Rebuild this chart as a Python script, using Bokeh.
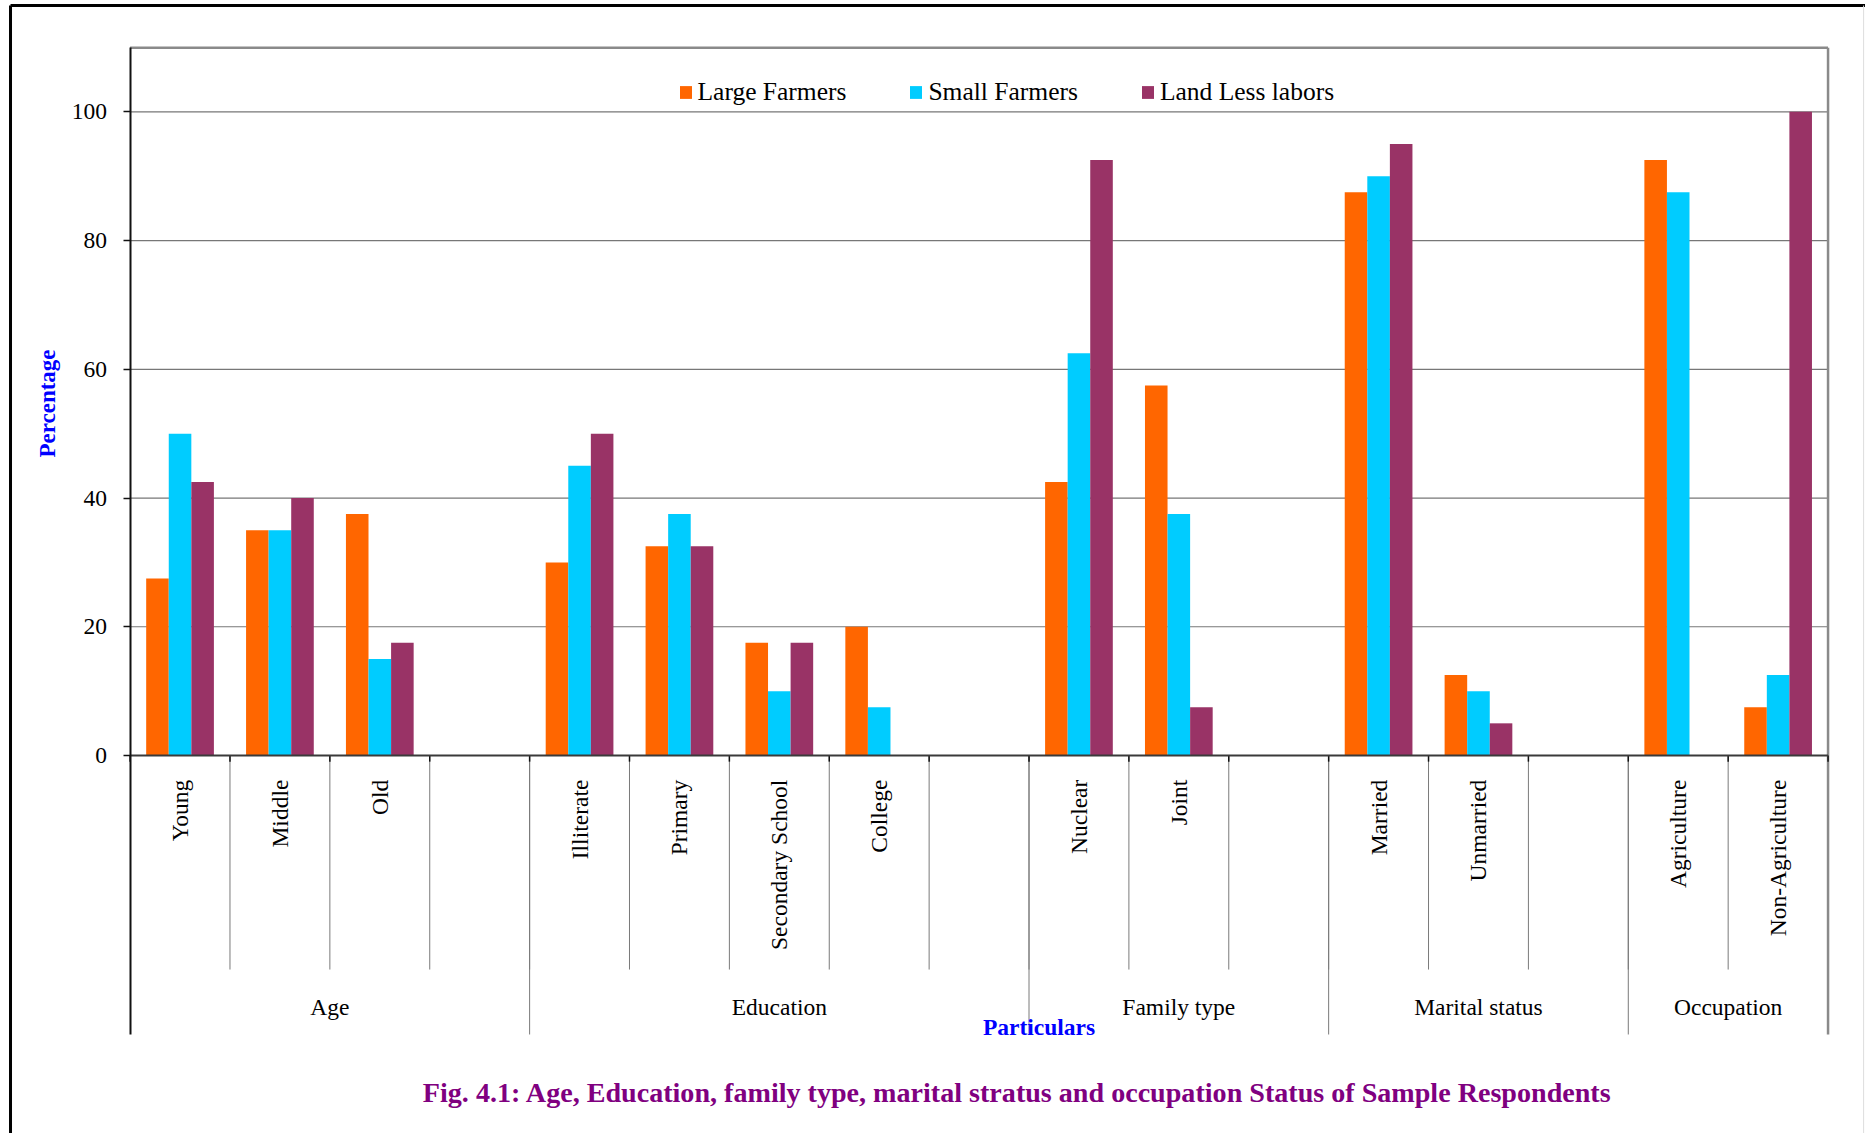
import numpy as np
from bokeh.plotting import figure
from bokeh.models import (Range1d, FixedTicker, Legend, LegendItem,
                          ColumnDataSource, LinearAxis)
from bokeh.core.properties import value
from bokeh.embed import file_html
from bokeh.resources import INLINE

# ---- data -------------------------------------------------------------
groups = ["Age", "Education", "Family type", "Marital status", "Occupation"]
group_items = [
    ["Young", "Middle", "Old"],
    ["Illiterate", "Primary", "Secondary School", "College"],
    ["Nuclear", "Joint"],
    ["Married", "Unmarried"],
    ["Agriculture", "Non-Agriculture"],
]
series_names = ["Large Farmers", "Small Farmers", "Land Less labors"]
large_farmers = [27.5, 35, 37.5, 30, 32.5, 17.5, 20, 42.5, 57.5, 87.5, 12.5, 92.5, 7.5]
small_farmers = [50, 35, 15, 45, 37.5, 10, 7.5, 62.5, 37.5, 90, 10, 87.5, 12.5]
landless_labors = [42.5, 40, 17.5, 50, 32.5, 17.5, 0, 92.5, 7.5, 95, 5, 0, 100]
y_ticks = [0, 20, 40, 60, 80, 100]

series_values = [large_farmers, small_farmers, landless_labors]
series_colors = ["#FF6600", "#00CCFF", "#993366"]

caption = ("Fig. 4.1: Age, Education, family type, marital stratus and "
           "occupation Status of Sample Respondents")

# ---- slot layout: each group followed by one empty slot (except last) --
slot_centers, category_labels, group_spans = [], [], []
pos = 0
for gi, items in enumerate(group_items):
    start = pos
    for it in items:
        slot_centers.append(pos + 0.5)
        category_labels.append(it)
        pos += 1
    if gi < len(group_items) - 1:
        pos += 1
    group_spans.append((start, pos))
n_slots = pos

W, H = 1865, 1133
Y_TOP = 109.94          # top edge of the plotting box
Y_SLOT_DIV = -33.25     # lower end of the category dividers
Y_GROUP_DIV = -43.34    # lower end of the group dividers
FONT = "Liberation Serif"

p = figure(width=W, height=H, output_backend="svg", toolbar_location=None,
           x_range=Range1d(-1.2976, 17.375), y_range=Range1d(-58.72, 117.29),
           min_border=0, x_axis_type=None, y_axis_type=None)
p.outline_line_color = None
p.background_fill_color = "white"
p.border_fill_color = "white"

# outer page frame
xr0, xr1 = -1.1974, 17.356
p.segment(x0=[xr0], y0=[116.51], x1=[17.375], y1=[116.51], line_color="black", line_width=3)
p.segment(x0=[xr0], y0=[116.51], x1=[xr0], y1=[-58.72], line_color="black", line_width=3)
p.segment(x0=[xr1], y0=[116.51], x1=[xr1], y1=[-58.72], line_color="#dddddd", line_width=1)

# horizontal gridlines
grid_vals = [t for t in y_ticks if t > 0]
p.segment(x0=[0] * len(grid_vals), y0=grid_vals, x1=[n_slots] * len(grid_vals),
          y1=grid_vals, line_color="#777777", line_width=1.2)

# plot box: top and right edges
p.segment(x0=[0], y0=[Y_TOP], x1=[n_slots], y1=[Y_TOP], line_color="#8a8a8a", line_width=2.5)
p.segment(x0=[n_slots], y0=[Y_TOP], x1=[n_slots], y1=[Y_GROUP_DIV],
          line_color="#8a8a8a", line_width=2.5)

# category and group dividers below the baseline
bounds_inner = list(range(1, n_slots))
p.segment(x0=bounds_inner, y0=[0] * len(bounds_inner), x1=bounds_inner,
          y1=[Y_SLOT_DIV] * len(bounds_inner), line_color="#7a7a7a", line_width=1)
group_bounds = [e for (_, e) in group_spans[:-1]]
p.segment(x0=group_bounds, y0=[0] * len(group_bounds), x1=group_bounds,
          y1=[Y_GROUP_DIV] * len(group_bounds), line_color="#7a7a7a", line_width=1)
tick_pos = list(range(0, n_slots + 1))
p.segment(x0=tick_pos, y0=[0] * len(tick_pos), x1=tick_pos, y1=[-0.95] * len(tick_pos),
          line_color="#111111", line_width=1.5)

# bars
bar_w = 0.226
offsets = [-bar_w, 0.0, bar_w]
renderers = []
for vals, col, off in zip(series_values, series_colors, offsets):
    src = ColumnDataSource(dict(x=[c + off for c in slot_centers], top=vals))
    r = p.vbar(x="x", top="top", bottom=0, width=bar_w, source=src,
               fill_color=col, line_color=None)
    renderers.append(r)

# baseline
p.segment(x0=[0], y0=[0], x1=[n_slots], y1=[0], line_color="#3a3a3a", line_width=2)

# value axis drawn at x = 0
yax = LinearAxis(fixed_location=0, bounds=(Y_GROUP_DIV, Y_TOP),
                 ticker=FixedTicker(ticks=y_ticks),
                 major_tick_out=7, major_tick_in=0,
                 minor_tick_out=0, minor_tick_in=0,
                 axis_line_color="#111111", axis_line_width=2,
                 major_tick_line_color="#111111", major_tick_line_width=1.5,
                 major_label_text_font=FONT, major_label_text_font_size="23.5px",
                 major_label_text_color="black", major_label_standoff=16)
p.add_layout(yax, "left")

# category labels (vertical) and group labels
p.text(x=slot_centers, y=[-3.75] * len(slot_centers), text=category_labels,
       angle=np.pi / 2, text_align="right", text_baseline="middle",
       text_font=value(FONT), text_font_size="23.5px", text_color="black")
p.text(x=[(s + e) / 2 for (s, e) in group_spans], y=[-39.0] * len(groups), text=groups,
       text_align="center", text_baseline="middle",
       text_font=value(FONT), text_font_size="23.5px", text_color="black")

# axis titles and caption
p.text(x=[9.10], y=[-42.1], text=["Particulars"], text_align="center",
       text_baseline="middle", text_font=value(FONT), text_font_size="23.5px",
       text_font_style="bold", text_color="#0000FF")
p.text(x=[-0.824], y=[54.68], text=["Percentage"], angle=np.pi / 2,
       text_align="center", text_baseline="middle", text_font=value(FONT),
       text_font_size="23px", text_font_style="bold", text_color="#0000FF")
p.text(x=[8.885], y=[-52.35], text=[caption], text_align="center",
       text_baseline="middle", text_font=value(FONT), text_font_size="28.1px",
       text_font_style="bold", text_color="#800080")

# legend
legend = Legend(items=[LegendItem(label=n, renderers=[r]) for n, r in zip(series_names, renderers)],
                orientation="horizontal", location=(677.5, H - 107),
                padding=0, margin=0, spacing=62, label_standoff=5,
                glyph_width=15, glyph_height=16,
                border_line_color=None, background_fill_alpha=0,
                label_text_font=FONT, label_text_font_size="25.5px",
                label_text_color="black")
p.add_layout(legend)

open("out.html", "w").write(file_html(p, INLINE))
